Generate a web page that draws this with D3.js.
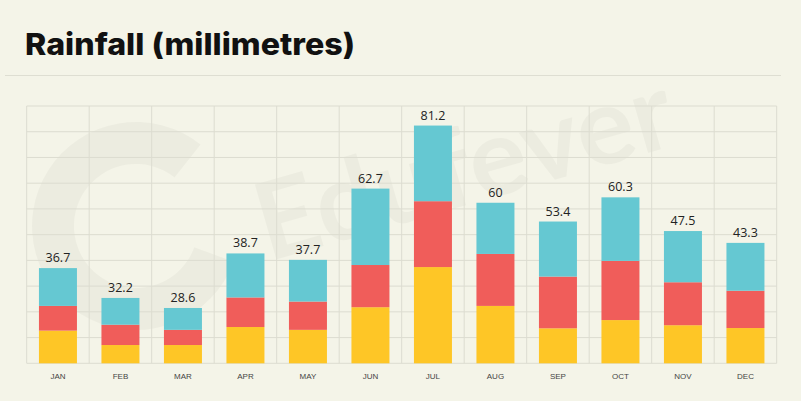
<!DOCTYPE html>
<html>
<head>
<meta charset="utf-8">
<script src="https://cdn.jsdelivr.net/npm/d3@7"></script>
<style>
  html, body { margin: 0; padding: 0; background: #F4F4E8; }
  svg { display: block; }
</style>
</head>
<body>
<svg id="chart" width="801" height="401"></svg>
<script>
// ---- data ----
const months = ["JAN","FEB","MAR","APR","MAY","JUN","JUL","AUG","SEP","OCT","NOV","DEC"];
const totalLabels = ["36.7","32.2","28.6","38.7","37.7","62.7","81.2","60","53.4","60.3","47.5","43.3"];
// stacked segments as drawn (bottom → top)
const yellowSeg = [12.7, 7.1, 7.1, 14.1, 13.0, 21.8, 37.4, 22.3, 13.6, 16.8, 14.8, 13.7];
const redSeg    = [ 9.6, 7.9, 5.9, 11.5, 11.0, 16.4, 25.6, 20.2, 20.1, 23.0, 16.7, 14.5];
const blueSeg   = [14.7,10.4, 8.5, 17.1, 16.2, 29.7, 29.4, 19.9, 21.4, 24.7, 19.9, 18.6];
const gridTicks = [0,10,20,30,40,50,60,70,80,90,100];

const seriesKeys = ["yellow","red","blue"];
const colors = { yellow: "#FEC626", red: "#F05D5A", blue: "#65C8D2" };

const rows = months.map((m, i) => ({ month: m, yellow: yellowSeg[i], red: redSeg[i], blue: blueSeg[i], label: totalLabels[i] }));

const svg = d3.select("#chart");
const W = 801, H = 401;
svg.append("rect").attr("width", W).attr("height", H).attr("fill", "#F4F4E8");

// ---- title ----
svg.append("text")
  .attr("x", 25).attr("y", 55)
  .attr("font-family", "Inter, 'Open Sans', sans-serif")
  .attr("font-weight", 800)
  .attr("font-size", 30)
  .attr("textLength", 330)
  .attr("lengthAdjust", "spacingAndGlyphs")
  .attr("fill", "#111")
  .text("Rainfall (millimetres)");

svg.append("line")
  .attr("x1", 5).attr("x2", 781).attr("y1", 75.5).attr("y2", 75.5)
  .attr("stroke", "#DEDED2").attr("stroke-width", 1.2);

// ---- scales ----
const plotL = 26.7, plotR = 776.7, plotT = 106, plotB = 363.3;
const col = d3.scaleBand().domain(months).range([plotL, plotR]).padding(0);
const barW = 38;
const y = d3.scaleLinear().domain([0, 100]).range([plotB, plotT]);

// ---- watermark ----
const wm = svg.append("g").attr("fill", "#000").attr("fill-opacity", 0.03);
const arc = d3.arc().innerRadius(62).outerRadius(104).startAngle(0.35).endAngle(2 * Math.PI - 0.9);
wm.append("path").attr("d", arc()).attr("transform", "translate(136,226) rotate(90)");
wm.append("text")
  .attr("transform", "translate(268,262) rotate(-16)")
  .attr("font-family", "Lato, 'Open Sans', sans-serif")
  .attr("font-weight", 700)
  .attr("font-size", 108)
  .text("Edufever");

// ---- grid ----
const grid = svg.append("g").attr("stroke", "#DCDCD0").attr("stroke-width", 1);
grid.selectAll("line.h").data(gridTicks).join("line")
  .attr("x1", plotL).attr("x2", plotR)
  .attr("y1", d => y(d)).attr("y2", d => y(d));
const vEdges = months.map(m => col(m)).concat([plotR]);
grid.selectAll("line.v").data(vEdges).join("line")
  .attr("x1", d => d).attr("x2", d => d)
  .attr("y1", plotT).attr("y2", plotB);

// ---- bars ----
const stack = d3.stack().keys(seriesKeys)(rows);
svg.append("g").selectAll("g").data(stack).join("g")
  .attr("fill", d => colors[d.key])
  .selectAll("rect").data(d => d).join("rect")
  .attr("x", d => col(d.data.month) + (col.bandwidth() - barW) / 2)
  .attr("width", barW)
  .attr("y", d => y(d[1]))
  .attr("height", d => y(d[0]) - y(d[1]));

// ---- value labels ----
svg.append("g").selectAll("text").data(rows).join("text")
  .attr("x", d => col(d.month) + col.bandwidth() / 2)
  .attr("y", d => y(d.yellow + d.red + d.blue) - 6)
  .attr("text-anchor", "middle")
  .attr("font-family", "'Open Sans', 'Noto Sans', sans-serif")
  .attr("font-size", 12.5)
  .attr("fill", "#222")
  .text(d => d.label);

// ---- x axis labels ----
const xAxis = d3.axisBottom(col).tickSize(0).tickPadding(0);
const ax = svg.append("g").attr("transform", `translate(0,${plotB})`).call(xAxis);
ax.select(".domain").remove();
ax.selectAll("text")
  .attr("dy", 0).attr("y", 16)
  .attr("font-family", "'Liberation Sans', Arial, sans-serif")
  .attr("font-size", 8)
  .attr("fill", "#444");
</script>
</body>
</html>
